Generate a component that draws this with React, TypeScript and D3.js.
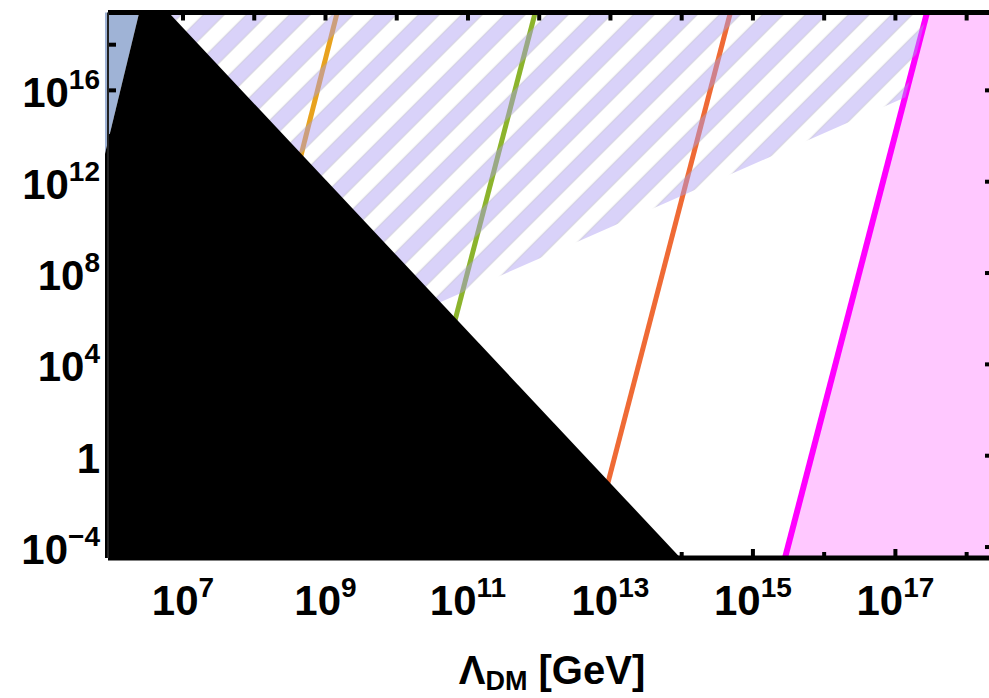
import React, { useEffect } from 'react';
import * as d3 from 'd3';

// all shapes are given as [log10(Lambda_DM / GeV), log10(y)]
const blackRegion = [[5.8, -4.6], [5.8, 11.87], [6.40, 19.6], [6.74, 19.6], [14.02, -4.6]];
const blueRegion = [[5.8, 11.87], [5.8, 19.6], [6.40, 19.6]];
const hatchRegion = [[6.5, 19.6], [17.46, 19.6], [17.14, 15.7], [10.61, 6.72], [9.5, 5.19]];
const pinkRegion = [[15.44, -4.6], [17.46, 19.6], [18.6, 19.6], [18.6, -4.6]];

const orangeLine = [[8.40, 10], [9.18, 19.6]];
const greenLine = [[10.49, 2], [11.96, 19.6]];
const redLine = [[12.68, -4.6], [14.70, 19.6]];
const magentaLine = [[15.44, -4.6], [17.46, 19.6]];

const xTicks = [7, 8, 9, 10, 11, 12, 13, 14, 15, 16, 17, 18];
const xLabels = [7, 9, 11, 13, 15, 17];
const yTicksLeft = [-4, -2, 0, 2, 4, 6, 8, 10, 12, 14, 16, 18];
const yLabels = [16, 12, 8, 4, 0, -4];

const FONT = '"Liberation Sans", Arial, sans-serif';

const App = () => {
  useEffect(() => {
    document.body.style.margin = '0';
  }, []);

  const left = 108, right = 993, top = 12.5, bottom = 558;

  const x = d3.scaleLog().domain([10 ** 5.947, 10 ** 18.37]).range([left, right]);
  const y = d3.scaleLog().domain([10 ** -4.48, 10 ** 19.41]).range([bottom, top]);

  const line = d3.line<number[]>()
    .x(d => x(10 ** d[0]))
    .y(d => y(10 ** d[1]));
  const area = (pts: number[][]) => line(pts) + 'Z';

  return (
    <svg width={989} height={698} style={{ display: 'block', background: '#fff' }}>
      <defs>
        <clipPath id="plot">
          <rect x={105} y={top} width={right - 105} height={bottom - top} />
        </clipPath>
        <pattern id="hatch" patternUnits="userSpaceOnUse" width={30.4} height={30.4}
          patternTransform="rotate(45)">
          <rect x={2.12} y={0} width={14.85} height={30.4} fill="rgb(170,155,242)" fillOpacity={0.45} />
          <line x1={2.12} x2={2.12} y1={0} y2={30.4} stroke="#a8a8a8" strokeOpacity={0.5} strokeWidth={0.8} />
          <line x1={16.97} x2={16.97} y1={0} y2={30.4} stroke="#a8a8a8" strokeOpacity={0.5} strokeWidth={0.8} />
        </pattern>
      </defs>

      <g clipPath="url(#plot)">
        <path d={area(pinkRegion)} fill="#ffc8ff" />
        <path d={line(orangeLine) || ''} stroke="#e8a21e" strokeWidth={5} fill="none" />
        <path d={line(greenLine) || ''} stroke="#8cb42c" strokeWidth={5} fill="none" />
        <path d={line(redLine) || ''} stroke="#ef6a35" strokeWidth={5} fill="none" />
        <path d={line(magentaLine) || ''} stroke="#ff00ff" strokeWidth={6} fill="none" />
        <path d={area(hatchRegion)} fill="url(#hatch)" />
        <path d={area(blueRegion)} fill="#9fb3d6" />
        <path d={area(blackRegion)} fill="#000" />
      </g>

      {/* ticks */}
      {xTicks.map(e => (
        <line key={'t' + e} x1={x(10 ** e)} x2={x(10 ** e)} y1={top} y2={top + 8} stroke="#000" strokeWidth={4} />
      ))}
      {xTicks.map(e => (
        <line key={'b' + e} x1={x(10 ** e)} x2={x(10 ** e)} y1={bottom}
          y2={bottom - (e % 2 === 1 ? 9 : 6)} stroke="#000" strokeWidth={4} />
      ))}
      {yTicksLeft.map(e => (
        <line key={'l' + e} x1={left} x2={left + 8} y1={y(10 ** e)} y2={y(10 ** e)} stroke="#000" strokeWidth={4} />
      ))}
      {yLabels.map(e => (
        <line key={'r' + e} x1={right} x2={right - 8} y1={y(10 ** e)} y2={y(10 ** e)} stroke="#000" strokeWidth={4} />
      ))}

      {/* frame */}
      <line x1={left} x2={right + 3} y1={top} y2={top} stroke="#000" strokeWidth={5} />
      <line x1={left} x2={right + 3} y1={bottom} y2={bottom} stroke="#000" strokeWidth={5} />
      <line x1={left} x2={left} y1={top} y2={bottom} stroke="#222" strokeWidth={2} />
      <line x1={right} x2={right} y1={top} y2={bottom} stroke="#000" strokeWidth={5} />

      {/* tick labels */}
      <g fontFamily={FONT} fontWeight="bold" fill="#000">
        {yLabels.map(e => (
          <text key={'yl' + e} x={100} y={y(10 ** e) + 17} textAnchor="end" fontSize={42}>
            {e === 0 ? '1' : (
              <>
                <tspan>10</tspan>
                <tspan fontSize={28} dy={-18}>{e < 0 ? '\u2212' + Math.abs(e) : e}</tspan>
              </>
            )}
          </text>
        ))}
        {xLabels.map(e => (
          <text key={'xl' + e} x={x(10 ** e)} y={615} textAnchor="middle" fontSize={42}>
            <tspan>10</tspan>
            <tspan fontSize={28} dy={-18}>{e}</tspan>
          </text>
        ))}
        <text x={552} y={684} textAnchor="middle" fontSize={40}>
          <tspan>Λ</tspan>
          <tspan fontSize={27} dy={6}>DM</tspan>
          <tspan dy={-6}> [GeV]</tspan>
        </text>
      </g>
    </svg>
  );
};

export default App;
